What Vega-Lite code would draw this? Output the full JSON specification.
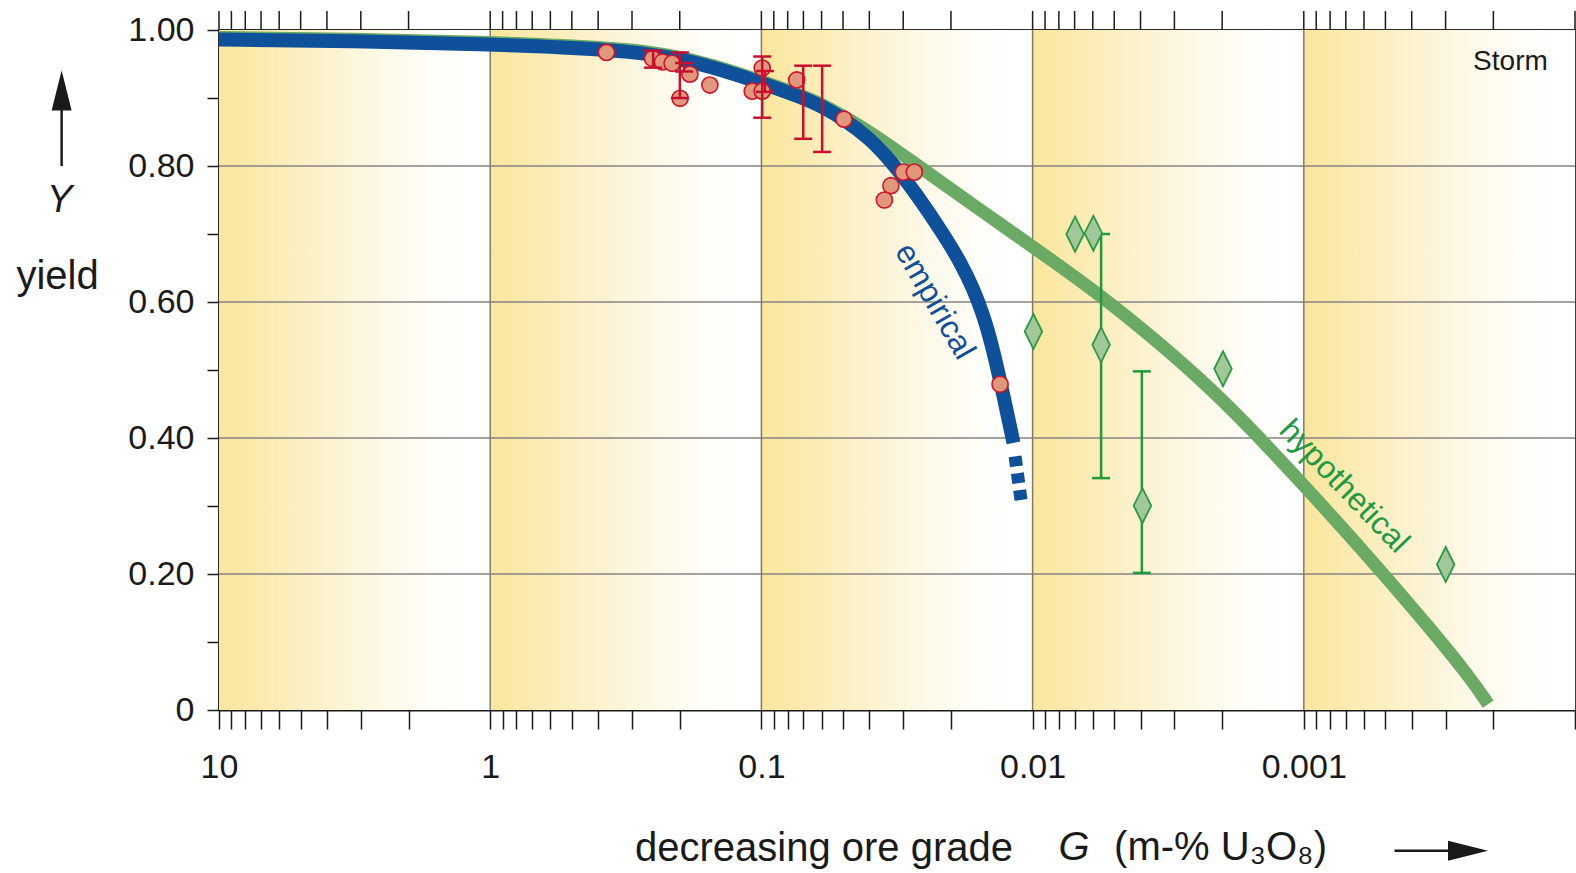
{
  "$schema": "https://vega.github.io/schema/vega-lite/v6.json",
  "width": 1356,
  "height": 680,
  "autosize": {"type": "none"},
  "padding": {"left": 219, "top": 30, "right": 1, "bottom": 163},
  "background": "white",
  "config": {
    "view": {"stroke": "#2a2a2a", "strokeWidth": 1.8},
    "axis": {"labelFont": "Liberation Sans", "titleFont": "Liberation Sans", "labelColor": "#1a1a1a", "titleColor": "#1a1a1a", "tickColor": "#1a1a1a", "domainColor": "#1a1a1a"}
  },
  "datasets": {
    "bands": [{"G0": 10, "G1": 1}, {"G0": 1, "G1": 0.1}, {"G0": 0.1, "G1": 0.01}, {"G0": 0.01, "G1": 0.001}, {"G0": 0.001, "G1": 0.0001}],
    "hgrid": [{"Y": 0.2}, {"Y": 0.4}, {"Y": 0.6}, {"Y": 0.8}],
    "vgrid": [{"G": 1}, {"G": 0.1}, {"G": 0.01}, {"G": 0.001}],
    "topTicks": [{"G": 10}, {"G": 9}, {"G": 8}, {"G": 7}, {"G": 6}, {"G": 5}, {"G": 4}, {"G": 3}, {"G": 2},
      {"G": 1}, {"G": 0.9}, {"G": 0.8}, {"G": 0.7}, {"G": 0.6}, {"G": 0.5}, {"G": 0.4}, {"G": 0.3}, {"G": 0.2},
      {"G": 0.1}, {"G": 0.09}, {"G": 0.08}, {"G": 0.07}, {"G": 0.06}, {"G": 0.05}, {"G": 0.04}, {"G": 0.03}, {"G": 0.02},
      {"G": 0.01}, {"G": 0.009}, {"G": 0.008}, {"G": 0.007}, {"G": 0.006}, {"G": 0.005}, {"G": 0.004}, {"G": 0.003}, {"G": 0.002},
      {"G": 0.001}, {"G": 0.0009}, {"G": 0.0008}, {"G": 0.0007}, {"G": 0.0006}, {"G": 0.0005}, {"G": 0.0004}, {"G": 0.0003}, {"G": 0.0002},
      {"G": 0.0001}],
    "empirical": [
      {"G": 10, "Y": 0.9861}, {"G": 3.25, "Y": 0.9839}, {"G": 1, "Y": 0.9787}, {"G": 0.5407, "Y": 0.9747}, {"G": 0.2999, "Y": 0.9685},
      {"G": 0.206, "Y": 0.9585}, {"G": 0.1553, "Y": 0.9467}, {"G": 0.1014, "Y": 0.9231}, {"G": 0.07082, "Y": 0.9009}, {"G": 0.05869, "Y": 0.8861},
      {"G": 0.0496, "Y": 0.8688}, {"G": 0.04009, "Y": 0.8418}, {"G": 0.03262, "Y": 0.8034}, {"G": 0.02652, "Y": 0.7561}, {"G": 0.02133, "Y": 0.7},
      {"G": 0.01837, "Y": 0.6572}, {"G": 0.01652, "Y": 0.6188}, {"G": 0.01522, "Y": 0.5818}, {"G": 0.01413, "Y": 0.5375}, {"G": 0.01299, "Y": 0.474},
      {"G": 0.01176, "Y": 0.3928}
    ],
    "empiricalDash": [{"G": 0.0116, "Y": 0.373}, {"G": 0.01128, "Y": 0.337}, {"G": 0.01096, "Y": 0.3006}],
    "hypothetical": [
      {"G": 10, "Y": 0.989}, {"G": 3.25, "Y": 0.987}, {"G": 1, "Y": 0.9817}, {"G": 0.5407, "Y": 0.9777}, {"G": 0.2999, "Y": 0.9715},
      {"G": 0.206, "Y": 0.9615}, {"G": 0.1553, "Y": 0.9497}, {"G": 0.1014, "Y": 0.9261}, {"G": 0.07082, "Y": 0.9039}, {"G": 0.05869, "Y": 0.8895},
      {"G": 0.0496, "Y": 0.8725}, {"G": 0.04079, "Y": 0.8532}, {"G": 0.0283, "Y": 0.809}, {"G": 0.01851, "Y": 0.7561}, {"G": 0.01179, "Y": 0.7015},
      {"G": 0.007915, "Y": 0.6527}, {"G": 0.005633, "Y": 0.6099}, {"G": 0.003681, "Y": 0.5508}, {"G": 0.002408, "Y": 0.4873}, {"G": 0.001575, "Y": 0.4149},
      {"G": 0.001093, "Y": 0.347}, {"G": 0.000733, "Y": 0.2716}, {"G": 0.000522, "Y": 0.2052}, {"G": 0.000341, "Y": 0.1195}, {"G": 0.000243, "Y": 0.0471},
      {"G": 0.000209, "Y": 0.0087}
    ],
    "measured": [
      {"G": 0.3726, "Y": 0.967}, {"G": 0.252, "Y": 0.958}, {"G": 0.2316, "Y": 0.953}, {"G": 0.2134, "Y": 0.951}, {"G": 0.1835, "Y": 0.935},
      {"G": 0.1994, "Y": 0.8996}, {"G": 0.1549, "Y": 0.919}, {"G": 0.1081, "Y": 0.91}, {"G": 0.0993, "Y": 0.944}, {"G": 0.0993, "Y": 0.91},
      {"G": 0.0741, "Y": 0.9265}, {"G": 0.0496, "Y": 0.8688}, {"G": 0.02998, "Y": 0.791}, {"G": 0.0273, "Y": 0.791}, {"G": 0.0333, "Y": 0.771},
      {"G": 0.0352, "Y": 0.75}, {"G": 0.01318, "Y": 0.479}
    ],
    "measuredErr": [
      {"G": 0.2507, "lo": 0.9446, "hi": 0.9696}, {"G": 0.1998, "lo": 0.9, "hi": 0.967}, {"G": 0.1928, "lo": 0.939, "hi": 0.9515},
      {"G": 0.0993, "lo": 0.871, "hi": 0.961}, {"G": 0.0971, "lo": 0.909, "hi": 0.9397}, {"G": 0.0701, "lo": 0.84, "hi": 0.9475},
      {"G": 0.0597, "lo": 0.8207, "hi": 0.9475}
    ],
    "estimated": [
      {"G": 0.00697, "Y": 0.6998}, {"G": 0.00597, "Y": 0.7012}, {"G": 0.00993, "Y": 0.5566}, {"G": 0.00559, "Y": 0.537},
      {"G": 0.001986, "Y": 0.5018}, {"G": 0.003936, "Y": 0.3005}, {"G": 0.0002998, "Y": 0.214}
    ],
    "estimatedErr": [{"G": 0.00559, "lo": 0.341, "hi": 0.7}, {"G": 0.003955, "lo": 0.2016, "hi": 0.498}],
    "curveLabels": [{"G": 0.02293, "Y": 0.601, "text": "empirical"}],
    "curveLabels2": [{"G": 0.000709, "Y": 0.329, "text": "hypothetical"}],
    "storm": [{"G": 0.000173, "Y": 0.9525, "text": "Storm"}],
    "yArrow": [{"G": 38.04, "Y": 0.8, "Y2": 0.885}],
    "yArrowHead": [{"G": 38.04, "Y": 0.911}],
    "yLetter": [{"G": 38.7, "Y": 0.749, "text": "Y"}],
    "gLetter": [{"G": 0.00703, "Y": -0.2212, "text": "G"}],
    "unit": [{"G": 0.005005, "Y": -0.2212, "text": "(m-% U₃O₈)"}],
    "xArrow": [{"G": 0.000463, "G2": 0.000276, "Y": -0.2069}],
    "xArrowHead": [{"G": 0.000248, "Y": -0.2069}]
  },
  "layer": [
    {
      "data": {"name": "bands"},
      "mark": {"type": "rect", "fill": {"gradient": "linear", "x1": 0, "x2": 1, "y1": 0, "y2": 0, "stops": [
        {"offset": 0, "color": "#fbe69c"}, {"offset": 0.3, "color": "#fcefc3"}, {"offset": 0.55, "color": "#fdf7e2"}, {"offset": 0.8, "color": "#fffef9"}, {"offset": 1, "color": "#ffffff"}]}},
      "encoding": {
        "x": {"field": "G0", "type": "quantitative",
          "scale": {"type": "log", "domain": [10, 0.0001], "nice": false},
          "axis": {"orient": "bottom", "values": [10,9,8,7,6,5,4,3,2,1,0.9,0.8,0.7,0.6,0.5,0.4,0.3,0.2,0.1,0.09,0.08,0.07,0.06,0.05,0.04,0.03,0.02,0.01,0.009,0.008,0.007,0.006,0.005,0.004,0.003,0.002,0.001,0.0009,0.0008,0.0007,0.0006,0.0005,0.0004,0.0003,0.0002,0.0001],
            "labelExpr": "datum.value == 10 ? '10' : datum.value == 1 ? '1' : datum.value == 0.1 ? '0.1' : datum.value == 0.01 ? '0.01' : datum.value == 0.001 ? '0.001' : ''",
            "labelOverlap": false, "labelFlush": false, "labelFontSize": 34, "labelPadding": 21, "labelBaseline": "top",
            "tickSize": 19, "tickWidth": 1.5, "domainWidth": 2, "grid": false,
            "title": "decreasing ore grade", "titleFontSize": 40, "titleFontWeight": "normal", "titleX": 604.5, "titleY": 150.5, "titleAlign": "center", "titleBaseline": "alphabetic"}},
        "x2": {"field": "G1"}
      }
    },
    {
      "data": {"name": "hgrid"},
      "mark": {"type": "rule", "color": "#858585", "strokeWidth": 1.5},
      "encoding": {
        "y": {"field": "Y", "type": "quantitative",
          "scale": {"domain": [0, 1], "nice": false, "zero": false},
          "axis": {"orient": "left", "values": [0, 0.1, 0.2, 0.3, 0.4, 0.5, 0.6, 0.7, 0.8, 0.9, 1],
            "labelExpr": "datum.value == 0 ? '0' : (round(datum.value * 10) % 2 == 0 ? format(datum.value, '.2f') : '')",
            "labelFontSize": 34, "labelPadding": 13, "labelFlush": false, "labelOverlap": false, "tickSize": 12, "tickWidth": 1.5, "domainWidth": 2, "grid": false,
            "title": "yield", "titleAngle": 0, "titleFontSize": 40, "titleFontWeight": "normal", "titleX": -162, "titleY": 258, "titleAlign": "center", "titleBaseline": "alphabetic"}}
      }
    },
    {
      "data": {"name": "vgrid"},
      "mark": {"type": "rule", "color": "#7d7c6c", "strokeWidth": 1.5},
      "encoding": {
        "x": {"field": "G", "type": "quantitative"}
      }
    },
    {
      "data": {"name": "topTicks"},
      "mark": {"type": "rule", "color": "#1a1a1a", "strokeWidth": 1.5, "y2Offset": -19},
      "encoding": {
        "x": {"field": "G", "type": "quantitative"},
        "y": {"datum": 1, "type": "quantitative"},
        "y2": {"datum": 1}
      }
    },
    {
      "data": {"name": "hypothetical"},
      "mark": {"type": "line", "color": "#6aaa64", "strokeWidth": 13, "interpolate": "basis", "strokeCap": "butt"},
      "encoding": {
        "x": {"field": "G", "type": "quantitative"},
        "y": {"field": "Y", "type": "quantitative"},
        "order": {"field": "G", "sort": "descending"}
      }
    },
    {
      "data": {"name": "empirical"},
      "mark": {"type": "line", "color": "#0e5099", "strokeWidth": 14, "interpolate": "basis", "strokeCap": "butt"},
      "encoding": {
        "x": {"field": "G", "type": "quantitative"},
        "y": {"field": "Y", "type": "quantitative"},
        "order": {"field": "G", "sort": "descending"}
      }
    },
    {
      "data": {"name": "empiricalDash"},
      "mark": {"type": "line", "color": "#0e5099", "strokeWidth": 13, "strokeDash": [10, 7], "strokeCap": "butt"},
      "encoding": {
        "x": {"field": "G", "type": "quantitative"},
        "y": {"field": "Y", "type": "quantitative"},
        "order": {"field": "G", "sort": "descending"}
      }
    },
    {
      "data": {"name": "measured"},
      "mark": {"type": "point", "filled": true, "size": 260, "fill": "#e0977b", "stroke": "#cf1429", "strokeWidth": 1.6, "opacity": 1, "fillOpacity": 1},
      "encoding": {
        "x": {"field": "G", "type": "quantitative"},
        "y": {"field": "Y", "type": "quantitative"}
      }
    },
    {
      "data": {"name": "measuredErr"},
      "mark": {"type": "rule", "color": "#c8102e", "strokeWidth": 2.5},
      "encoding": {
        "x": {"field": "G", "type": "quantitative"},
        "y": {"field": "lo", "type": "quantitative"},
        "y2": {"field": "hi"}
      }
    },
    {
      "data": {"name": "measuredErr"},
      "transform": [{"fold": ["lo", "hi"], "as": ["end", "Yv"]}],
      "mark": {"type": "tick", "orient": "horizontal", "color": "#c8102e", "size": 18, "thickness": 2.5, "opacity": 1},
      "encoding": {
        "x": {"field": "G", "type": "quantitative"},
        "y": {"field": "Yv", "type": "quantitative"}
      }
    },
    {
      "data": {"name": "estimatedErr"},
      "mark": {"type": "rule", "color": "#1f9a40", "strokeWidth": 2.5},
      "encoding": {
        "x": {"field": "G", "type": "quantitative"},
        "y": {"field": "lo", "type": "quantitative"},
        "y2": {"field": "hi"}
      }
    },
    {
      "data": {"name": "estimatedErr"},
      "transform": [{"fold": ["lo", "hi"], "as": ["end", "Yv"]}],
      "mark": {"type": "tick", "orient": "horizontal", "color": "#1f9a40", "size": 18, "thickness": 2.5, "opacity": 1},
      "encoding": {
        "x": {"field": "G", "type": "quantitative"},
        "y": {"field": "Yv", "type": "quantitative"}
      }
    },
    {
      "data": {"name": "estimated"},
      "mark": {"type": "point", "shape": "M0,-1L0.5,0L0,1L-0.5,0Z", "size": 1225, "filled": true, "fill": "#a2c89a", "stroke": "#2a9a46", "strokeWidth": 1.8, "opacity": 1, "fillOpacity": 1},
      "encoding": {
        "x": {"field": "G", "type": "quantitative"},
        "y": {"field": "Y", "type": "quantitative"}
      }
    },
    {
      "data": {"name": "curveLabels"},
      "mark": {"type": "text", "font": "Liberation Sans", "fontSize": 32, "color": "#0e5099", "angle": 60, "align": "center", "baseline": "middle"},
      "encoding": {
        "x": {"field": "G", "type": "quantitative"},
        "y": {"field": "Y", "type": "quantitative"},
        "text": {"field": "text"}
      }
    },
    {
      "data": {"name": "curveLabels2"},
      "mark": {"type": "text", "font": "Liberation Sans", "fontSize": 32, "color": "#1e9a45", "angle": 46, "align": "center", "baseline": "middle"},
      "encoding": {
        "x": {"field": "G", "type": "quantitative"},
        "y": {"field": "Y", "type": "quantitative"},
        "text": {"field": "text"}
      }
    },
    {
      "data": {"name": "storm"},
      "mark": {"type": "text", "font": "Liberation Sans", "fontSize": 28, "color": "#1a1a1a", "align": "center", "baseline": "middle"},
      "encoding": {
        "x": {"field": "G", "type": "quantitative"},
        "y": {"field": "Y", "type": "quantitative"},
        "text": {"field": "text"}
      }
    },
    {
      "data": {"name": "yArrow"},
      "mark": {"type": "rule", "color": "#1a1a1a", "strokeWidth": 2.5},
      "encoding": {
        "x": {"field": "G", "type": "quantitative"},
        "y": {"field": "Y", "type": "quantitative"},
        "y2": {"field": "Y2"}
      }
    },
    {
      "data": {"name": "yArrowHead"},
      "mark": {"type": "point", "shape": "M0,-1L0.5,1L-0.5,1Z", "size": 1600, "filled": true, "color": "#1a1a1a", "opacity": 1, "strokeWidth": 0},
      "encoding": {
        "x": {"field": "G", "type": "quantitative"},
        "y": {"field": "Y", "type": "quantitative"}
      }
    },
    {
      "data": {"name": "yLetter"},
      "mark": {"type": "text", "font": "Liberation Sans", "fontSize": 38, "fontStyle": "italic", "color": "#1a1a1a", "align": "center", "baseline": "middle"},
      "encoding": {
        "x": {"field": "G", "type": "quantitative"},
        "y": {"field": "Y", "type": "quantitative"},
        "text": {"field": "text"}
      }
    },
    {
      "data": {"name": "gLetter"},
      "mark": {"type": "text", "font": "Liberation Sans", "fontSize": 40, "fontStyle": "italic", "color": "#1a1a1a", "align": "center", "baseline": "alphabetic"},
      "encoding": {
        "x": {"field": "G", "type": "quantitative"},
        "y": {"field": "Y", "type": "quantitative"},
        "text": {"field": "text"}
      }
    },
    {
      "data": {"name": "unit"},
      "mark": {"type": "text", "font": "Liberation Sans", "fontSize": 40, "color": "#1a1a1a", "align": "left", "baseline": "alphabetic"},
      "encoding": {
        "x": {"field": "G", "type": "quantitative"},
        "y": {"field": "Y", "type": "quantitative"},
        "text": {"field": "text"}
      }
    },
    {
      "data": {"name": "xArrow"},
      "mark": {"type": "rule", "color": "#1a1a1a", "strokeWidth": 2.5},
      "encoding": {
        "x": {"field": "G", "type": "quantitative"},
        "x2": {"field": "G2"},
        "y": {"field": "Y", "type": "quantitative"}
      }
    },
    {
      "data": {"name": "xArrowHead"},
      "mark": {"type": "point", "shape": "M-1,-0.5L1,0L-1,0.5Z", "size": 1600, "filled": true, "color": "#1a1a1a", "opacity": 1, "strokeWidth": 0},
      "encoding": {
        "x": {"field": "G", "type": "quantitative"},
        "y": {"field": "Y", "type": "quantitative"}
      }
    }
  ]
}
